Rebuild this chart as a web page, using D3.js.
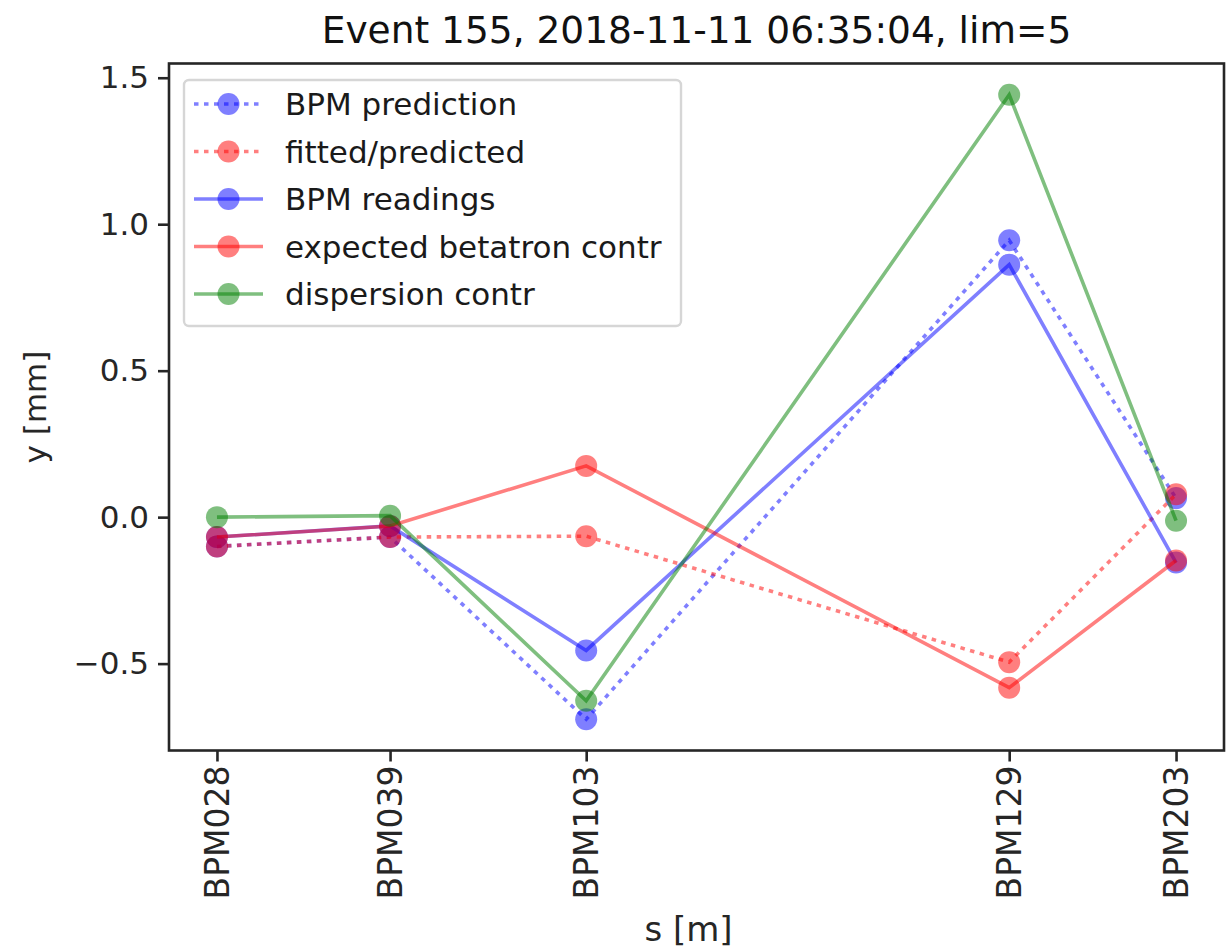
<!DOCTYPE html>
<html>
<head>
<meta charset="utf-8">
<script src="https://cdn.jsdelivr.net/npm/d3@7"></script>
<style>
  html, body { margin: 0; padding: 0; background: #fff; }
  svg { display: block; font-family: "DejaVu Sans", sans-serif; }
</style>
</head>
<body>
<svg id="chart" width="1231" height="950"></svg>
<script>
// BPM names and their longitudinal positions s [m]
const bpmNames = ["BPM028", "BPM039", "BPM103", "BPM129", "BPM203"];
const sPositions = [3.10, 10.02, 17.86, 34.77, 41.44];

// vertical orbit values y [mm] at each BPM
const bpmPrediction = [-0.100, -0.068, -0.690, 0.945, 0.065];
const fittedPredicted = [-0.100, -0.068, -0.065, -0.495, 0.078];
const bpmReadings = [-0.068, -0.030, -0.455, 0.862, -0.155];
const betatronContr = [-0.068, -0.030, 0.175, -0.582, -0.148];
const dispersionContr = [0.000, 0.005, -0.627, 1.442, -0.012];

const yTicks = [-0.5, 0.0, 0.5, 1.0, 1.5];
const titleText = "Event 155, 2018-11-11 06:35:04, lim=5";

const series = [
  { label: "BPM prediction", values: bpmPrediction, color: "#0000ff", dotted: true },
  { label: "fitted/predicted", values: fittedPredicted, color: "#ff0000", dotted: true },
  { label: "BPM readings", values: bpmReadings, color: "#0000ff", dotted: false },
  { label: "expected betatron contr", values: betatronContr, color: "#ff0000", dotted: false },
  { label: "dispersion contr", values: dispersionContr, color: "#008000", dotted: false }
];

const svg = d3.select("#chart");
const plot = { left: 169, right: 1224, top: 63.5, bottom: 750.5 };
const baseFont = 31;

// 5% margins around the data on both axes
function padded(extent) {
  const d = extent[1] - extent[0];
  return [extent[0] - 0.05 * d, extent[1] + 0.05 * d];
}
const allY = series.flatMap(s => s.values);
const x = d3.scaleLinear().domain(padded(d3.extent(sPositions))).range([plot.left, plot.right]);
const y = d3.scaleLinear().domain(padded(d3.extent(allY))).range([plot.bottom, plot.top]);

const lineW = 3.6;
const markerR = 11;
const dotDash = "4.5,5.5";

// data lines and markers
const line = d3.line().x((d, i) => x(sPositions[i])).y(d => y(d));
const g = svg.append("g");
series.forEach(s => {
  g.append("path")
    .attr("d", line(s.values))
    .attr("fill", "none")
    .attr("stroke", s.color)
    .attr("stroke-opacity", 0.5)
    .attr("stroke-width", lineW)
    .attr("stroke-dasharray", s.dotted ? dotDash : null);
  g.selectAll(null).data(s.values).enter().append("circle")
    .attr("cx", (d, i) => x(sPositions[i]))
    .attr("cy", d => y(d))
    .attr("r", markerR)
    .attr("fill", s.color)
    .attr("fill-opacity", 0.5);
});

// axes frame
svg.append("rect")
  .attr("x", plot.left).attr("y", plot.top)
  .attr("width", plot.right - plot.left).attr("height", plot.bottom - plot.top)
  .attr("fill", "none").attr("stroke", "#262626").attr("stroke-width", 2.6);

// y axis
const yAxis = svg.append("g")
  .attr("transform", `translate(${plot.left},0)`)
  .call(d3.axisLeft(y).tickValues(yTicks).tickFormat(d3.format(".1f")).tickSize(11).tickPadding(9));
yAxis.select(".domain").remove();
yAxis.selectAll(".tick line").attr("stroke", "#262626").attr("stroke-width", 2.6);
yAxis.selectAll(".tick text").attr("fill", "#262626")
  .style("font-size", baseFont + "px").style("font-family", "DejaVu Sans");

// x axis with BPM names as tick labels
const xAxis = svg.append("g")
  .attr("transform", `translate(0,${plot.bottom})`)
  .call(d3.axisBottom(x).tickValues(sPositions).tickFormat((d, i) => bpmNames[i]).tickSize(11));
xAxis.select(".domain").remove();
xAxis.selectAll(".tick line").attr("stroke", "#262626").attr("stroke-width", 2.6);
xAxis.selectAll(".tick text")
  .attr("fill", "#262626")
  .style("font-size", "33px").style("font-family", "DejaVu Sans")
  .attr("transform", "translate(0,15) rotate(-90)")
  .attr("x", 0).attr("y", 0).attr("dy", "0.35em")
  .attr("text-anchor", "end");

// title and axis labels
svg.append("text")
  .attr("x", (plot.left + plot.right) / 2).attr("y", 43)
  .attr("text-anchor", "middle").attr("fill", "#111")
  .style("font-size", "37.5px").text(titleText);
svg.append("text")
  .attr("x", (plot.left + plot.right) / 2 - 8).attr("y", 941)
  .attr("text-anchor", "middle").attr("fill", "#262626")
  .style("font-size", "34px").text("s [m]");
svg.append("text")
  .attr("transform", `translate(46,${(plot.top + plot.bottom) / 2}) rotate(-90)`)
  .attr("text-anchor", "middle").attr("fill", "#262626")
  .style("font-size", baseFont + "px").text("y [mm]");

// legend
const leg = svg.append("g").attr("transform", "translate(184,80)");
leg.append("rect")
  .attr("x", 0).attr("y", 0).attr("width", 497).attr("height", 246)
  .attr("rx", 5).attr("ry", 5)
  .attr("fill", "#fff").attr("fill-opacity", 0.8)
  .attr("stroke", "#d6d6d6").attr("stroke-width", 2.4);
series.forEach((s, i) => {
  const cy = 24 + i * 47.5;
  leg.append("line")
    .attr("x1", 10).attr("x2", 79).attr("y1", cy).attr("y2", cy)
    .attr("stroke", s.color).attr("stroke-opacity", 0.5).attr("stroke-width", lineW)
    .attr("stroke-dasharray", s.dotted ? dotDash : null);
  leg.append("circle")
    .attr("cx", 44.5).attr("cy", cy).attr("r", markerR)
    .attr("fill", s.color).attr("fill-opacity", 0.5);
  leg.append("text")
    .attr("x", 101).attr("y", cy).attr("dy", "0.36em")
    .attr("fill", "#1a1a1a")
    .style("font-size", baseFont + "px").text(s.label);
});
</script>
</body>
</html>
